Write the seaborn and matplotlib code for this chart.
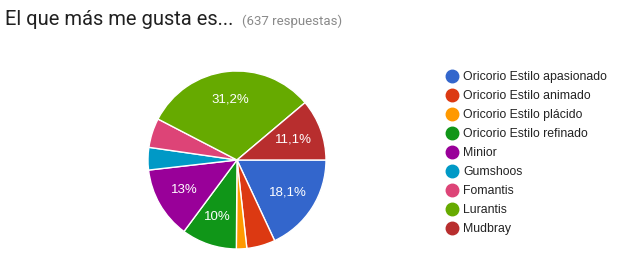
import matplotlib
matplotlib.use("Agg")
import matplotlib.pyplot as plt
import seaborn as sns
from matplotlib.lines import Line2D

sns.set_theme(style="white")
plt.rcParams["font.family"] = ["Liberation Sans", "DejaVu Sans"]

# --- Data ---
categories = [
    "Oricorio Estilo apasionado",
    "Oricorio Estilo animado",
    "Oricorio Estilo plácido",
    "Oricorio Estilo refinado",
    "Minior",
    "Gumshoos",
    "Fomantis",
    "Lurantis",
    "Mudbray",
]
counts = [115, 33, 12, 64, 83, 26, 34, 199, 71]
total_responses = 637
colors = sns.color_palette([
    "#3366cc", "#dc3912", "#ff9900", "#109618", "#990099",
    "#0099c6", "#dd4477", "#66aa00", "#b82e2e",
])


def fmt_pct(p):
    # only label the big slices, comma decimals, 3 significant digits
    if p < 9.5:
        return ""
    s = f"{p:.3g}".replace(".", ",")
    return s + "%"


fig = plt.figure(figsize=(6.18, 2.59), dpi=100)
W, H = 618, 259
cx, cy, r = 237, 160, 89
ax = fig.add_axes([(cx - r) / W, (H - cy - r) / H, 2 * r / W, 2 * r / H])

wedges, texts, autotexts = ax.pie(
    counts,
    colors=colors,
    startangle=0,
    counterclock=False,
    autopct=fmt_pct,
    pctdistance=0.68,
    wedgeprops=dict(edgecolor="white", linewidth=1),
    textprops=dict(color="white", fontsize=9.5),
)
ax.set_xlim(-1, 1)
ax.set_ylim(-1, 1)
ax.set_aspect("equal")
ax.axis("off")

# title + response count
fig.text(5 / W, 1 - 25 / H, "El que más me gusta es...", fontsize=14.5,
         color="#212121", family=["Roboto", "DejaVu Sans"], va="baseline")
fig.text(242 / W, 1 - 25 / H, f"({total_responses} respuestas)", fontsize=9.5,
         color="#8a8a8a", family=["Roboto", "DejaVu Sans"], va="baseline")

# legend
handles = [
    Line2D([0], [0], marker="o", linestyle="", markersize=9,
           markerfacecolor=c, markeredgecolor=c)
    for c in colors
]
leg = fig.legend(
    handles, categories,
    loc="upper left",
    bbox_to_anchor=(439 / W, 1 - 65 / H),
    frameon=False,
    fontsize=8.8,
    handletextpad=0.3,
    labelspacing=0.57,
    handlelength=1.2,
    borderpad=0,
)
for t in leg.get_texts():
    t.set_color("#222222")

fig.savefig("out.png", dpi=100)
